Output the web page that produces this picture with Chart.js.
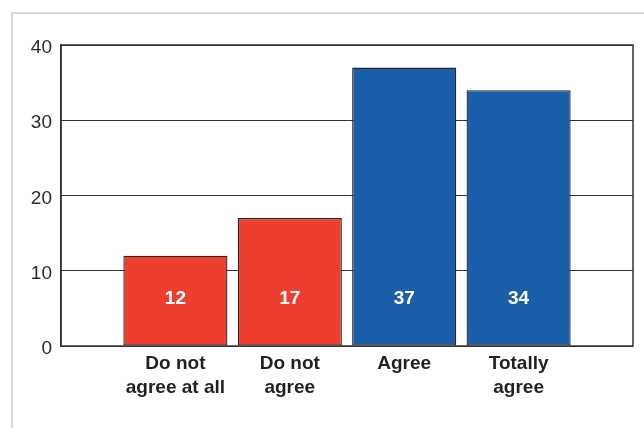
<!DOCTYPE html>
<html>
<head>
<meta charset="utf-8">
<script src="https://cdn.jsdelivr.net/npm/chart.js@4/dist/chart.umd.min.js"></script>
<style>
  html, body { margin: 0; padding: 0; background: #fff; overflow: hidden; }
  #wrap { position: relative; width: 644px; height: 428px; }
  #panel {
    position: absolute; left: 11px; top: 12px; width: 700px; height: 500px;
    border-top: 2px solid #d3dad6; border-left: 2px solid #d3dad6;
  }
  #chart { position: absolute; left: 0; top: 0; }
</style>
</head>
<body>
<div id="wrap">
  <div id="panel"></div>
  <canvas id="chart" width="644" height="428"></canvas>
</div>
<script>
// answer categories (blank slots keep the half-width gaps at both ends)
const categories = ["", ["Do not", "agree at all"], ["Do not", "agree"], "Agree", ["Totally", "agree"], ""];
const values = [null, 12, 17, 37, 34, null];
const barColors = ["#ee3f2e", "#ee3f2e", "#ee3f2e", "#1b5ea9", "#1b5ea9", "#1b5ea9"];
const yTicks = [0, 10, 20, 30, 40];

// value shown inside each bar, all on one line near the bottom
const labelLevel = 6.3;

const frameAndLabels = {
  id: "frameAndLabels",
  afterDatasetsDraw(chart) {
    const { ctx, chartArea: a, scales } = chart;
    ctx.save();
    ctx.strokeStyle = "#333";
    ctx.lineWidth = 1.5;
    ctx.strokeRect(a.left, a.top, a.right - a.left, a.bottom - a.top);

    ctx.fillStyle = "#fff";
    ctx.font = "bold 19px 'Liberation Sans', Arial, sans-serif";
    ctx.textAlign = "center";
    ctx.textBaseline = "middle";
    const y = scales.y.getPixelForValue(labelLevel);
    chart.getDatasetMeta(0).data.forEach((bar, i) => {
      if (values[i] == null) return;
      ctx.fillText(String(values[i]), bar.x, y);
    });
    ctx.restore();
  }
};

new Chart(document.getElementById("chart"), {
  type: "bar",
  data: {
    labels: categories,
    datasets: [{
      data: values,
      backgroundColor: barColors,
      borderColor: "#262626",
      borderWidth: 1.3,
      borderSkipped: false,
      barPercentage: 0.91,
      categoryPercentage: 1
    }]
  },
  options: {
    responsive: false,
    animation: false,
    layout: { padding: { top: 45, right: 11, left: 0, bottom: 0 } },
    plugins: { legend: { display: false }, tooltip: { enabled: false } },
    scales: {
      x: {
        offset: false,
        grid: { display: false, drawTicks: false },
        border: { display: false },
        ticks: {
          color: "#231f20",
          padding: 6,
          maxRotation: 0,
          autoSkip: false,
          font: { family: "'Liberation Sans', Arial, sans-serif", size: 19, weight: "bold", lineHeight: 1.25 }
        },
        afterFit(scale) { scale.height = 82; }
      },
      y: {
        min: 0,
        max: 40,
        afterBuildTicks(scale) { scale.ticks = yTicks.map(v => ({ value: v })); },
        grid: { color: "#333", lineWidth: 1, drawTicks: false },
        border: { color: "#333", width: 1.5 },
        ticks: {
          color: "#2b2b2b",
          padding: 9,
          labelOffset: 3,
          font: { family: "'Liberation Sans', Arial, sans-serif", size: 19 }
        },
        afterFit(scale) { scale.width = 61; }
      }
    }
  },
  plugins: [frameAndLabels]
});
</script>
</body>
</html>
